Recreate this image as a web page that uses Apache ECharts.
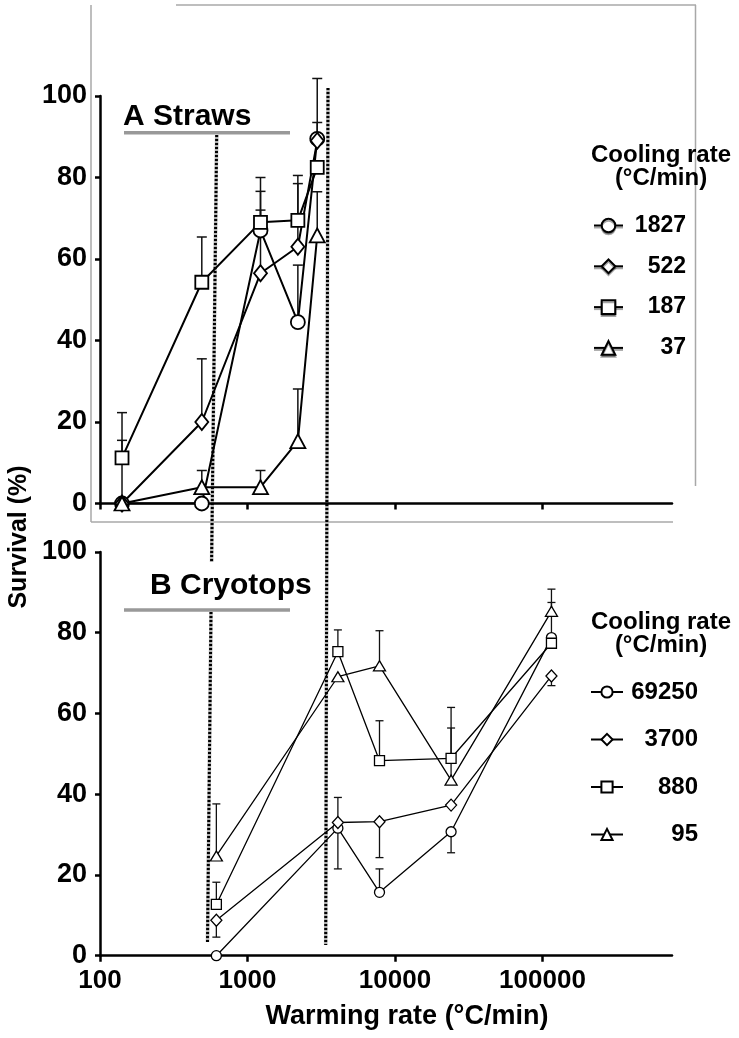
<!DOCTYPE html>
<html>
<head>
<meta charset="utf-8">
<script src="https://cdn.jsdelivr.net/npm/echarts@6/dist/echarts.min.js"></script>
<style>
html,body{margin:0;padding:0;background:#fff;}
#c{width:739px;height:1038px;}
</style>
</head>
<body>
<div id="c"></div>
<script>
// ---------- DATA ----------
// Panel A: Straws
var xA = [141, 490, 1225, 2195, 2970];
var namesA = ['1827', '522', '187', '37'];
var a1827 = [0, 0, 67, 44.5, 89.5];
var a522  = [0, 20, 56.5, 63, 89];
var a187  = [11.2, 54.3, 69, 69.5, 82.5];
var a37   = [0, 4, 4, 15.3, 65.8];
// signed error bar lengths (null = none)
var a1827Err = [15.5, null, 9.6, 14, 14.8];
var a522Err  = [null, 15.5, 15.5, 15.5, 4.5];
var a187Err  = [11.1, 11.1, 11, 11, null];
var a37Err   = [null, 4.1, 4.1, 12.8, 10.7];

// Panel B: Cryotops
var xB = [615, 4100, 7850, 24000, 115000];
var namesB = ['69250', '3700', '880', '95'];
var b69250 = [0, 31.6, 15.7, 30.7, 78.8];
var b3700  = [8.8, 33, 33.2, 37.3, 69.3];
var b880   = [12.7, 75.3, 48.3, 48.9, 77.4];
var b95    = [24.7, 69.1, 71.8, 43.5, 85.3];
var b69250Err = [null, -10.1, 5.8, -5.2, 8.7];
var b3700Err  = [-4.2, 6.2, -8.9, null, -2.4];
var b880Err   = [5.5, 5.4, 9.9, 12.6, null];
var b95Err    = [12.9, null, 8.7, 12.9, 5.5];

var xTicks = [100, 1000, 10000, 100000];
var yTicks = [0, 20, 40, 60, 80, 100];

// ---------- BUILD ----------
var FONT = 'Liberation Sans';
function pairs(xs, ys) { return xs.map(function (x, i) { return [x, ys[i]]; }); }
function errs(xs, ys, es) {
  var out = [];
  xs.forEach(function (x, i) { if (es[i] !== null) out.push([x, ys[i], es[i]]); });
  return out;
}
function errSeries(idx, data, cap, lw) {
  return {
    type: 'custom', xAxisIndex: idx, yAxisIndex: idx, z: 1, silent: true,
    data: data,
    renderItem: function (params, api) {
      var x = api.value(0), y = api.value(1), e = api.value(2);
      var p0 = api.coord([x, y]);
      var p1 = api.coord([x, y + e]);
      return {
        type: 'group', children: [
          { type: 'line', shape: { x1: p0[0], y1: p0[1], x2: p1[0], y2: p1[1] }, style: { stroke: '#111', lineWidth: lw } },
          { type: 'line', shape: { x1: p1[0] - cap, y1: p1[1], x2: p1[0] + cap, y2: p1[1] }, style: { stroke: '#111', lineWidth: lw } }
        ]
      };
    }
  };
}
function lineSeries(idx, name, xs, ys, symbol, size, lw, bw) {
  return {
    type: 'line', name: name, xAxisIndex: idx, yAxisIndex: idx, z: 3,
    data: pairs(xs, ys), symbol: symbol, symbolSize: size, showSymbol: true,
    lineStyle: { color: '#000', width: lw },
    itemStyle: { color: '#fff', borderColor: '#000', borderWidth: bw },
    emphasis: { disabled: true }
  };
}

var topYA = 96, botYA = 503.5, topYB = 552, botYB = 955.7;

function xAxisCfg(idx, showLabels) {
  return {
    type: 'log', logBase: 10, gridIndex: idx, min: 100, max: 755000,
    axisLine: { show: true, onZero: false, lineStyle: { color: '#000', width: 2.5 } },
    axisTick: { show: true, length: 6, customValues: xTicks, lineStyle: { color: '#000', width: 2.5 } },
    axisLabel: {
      show: showLabels, customValues: xTicks, margin: 12,
      color: '#000', fontFamily: FONT, fontWeight: 'bold', fontSize: 26,
      formatter: function (v) { return String(Math.round(v)); }
    },
    splitLine: { show: false }, minorTick: { show: false }
  };
}
function yAxisCfg(idx) {
  return {
    type: 'value', gridIndex: idx, min: 0, max: 100, interval: 20,
    axisLine: { show: true, lineStyle: { color: '#000', width: 2.5 } },
    axisTick: { show: true, length: 5, lineStyle: { color: '#000', width: 2.5 } },
    axisLabel: { margin: 13, color: '#000', fontFamily: FONT, fontWeight: 'bold', fontSize: 27 },
    splitLine: { show: false }
  };
}

var gray = '#a8a8a8';
function dotted(x1, y1, x2, y2) {
  return [
    { type: 'line', shape: { x1: x1, y1: y1, x2: x2, y2: y2 }, style: { stroke: '#b0b0b0', lineWidth: 3.5 }, z: 0 },
    { type: 'line', shape: { x1: x1, y1: y1, x2: x2, y2: y2 }, style: { stroke: '#000', lineWidth: 3, lineDash: [2, 2] }, z: 0 }
  ];
}
function seg(x1, y1, x2, y2, color, w) {
  return { type: 'line', shape: { x1: x1, y1: y1, x2: x2, y2: y2 }, style: { stroke: color, lineWidth: w }, z: 0 };
}
function txt(x, y, t, size, align, extra) {
  var o = { type: 'text', x: x, y: y, z: 5, style: { text: t, fill: '#000', font: 'bold ' + size + 'px "' + FONT + '"', textAlign: align, textVerticalAlign: 'middle' } };
  if (extra) for (var k in extra) o[k] = extra[k];
  return o;
}

var graphics = [];
// gray frame around panel A
graphics.push(seg(91, 5, 91, 522, gray, 1.5));
graphics.push(seg(91, 522, 673, 522, gray, 1.5));
graphics.push(seg(176, 5, 696, 5, gray, 1.5));
graphics.push(seg(695.5, 5, 695.5, 486, gray, 1.5));
// title underlines
graphics.push(seg(124, 132.7, 290, 132.7, '#999', 3.5));
graphics.push(seg(124, 610, 290, 610, '#999', 3.5));
// dotted guide lines
graphics = graphics.concat(dotted(216.7, 135, 211.6, 562));
graphics = graphics.concat(dotted(211.0, 612, 207.5, 942));
graphics = graphics.concat(dotted(328, 88, 325.7, 945));
// texts
graphics.push(txt(123, 117, 'A Straws', 30, 'left'));
graphics.push(txt(150, 586, 'B Cryotops', 30, 'left'));
graphics.push(txt(661, 155, 'Cooling rate', 24, 'center'));
graphics.push(txt(661, 178, '(°C/min)', 24, 'center'));
graphics.push(txt(661, 622, 'Cooling rate', 24, 'center'));
graphics.push(txt(661, 645, '(°C/min)', 24, 'center'));
graphics.push(txt(407, 1017, 'Warming rate (°C/min)', 27, 'center'));
graphics.push(txt(19, 537, 'Survival (%)', 25, 'center', { rotation: Math.PI / 2 }));

var series = [
  errSeries(0, errs(xA, a1827, a1827Err), 5, 1.5),
  errSeries(0, errs(xA, a522, a522Err), 5, 1.5),
  errSeries(0, errs(xA, a187, a187Err), 5, 1.5),
  errSeries(0, errs(xA, a37, a37Err), 5, 1.5),
  lineSeries(0, namesA[0], xA, a1827, 'circle', 14, 2, 1.8),
  lineSeries(0, namesA[1], xA, a522, 'diamond', [13, 16], 2, 1.8),
  lineSeries(0, namesA[2], xA, a187, 'rect', 13, 2, 1.8),
  lineSeries(0, namesA[3], xA, a37, 'triangle', [15, 14], 2, 1.8),
  errSeries(1, errs(xB, b69250, b69250Err), 4, 1.3),
  errSeries(1, errs(xB, b3700, b3700Err), 4, 1.3),
  errSeries(1, errs(xB, b880, b880Err), 4, 1.3),
  errSeries(1, errs(xB, b95, b95Err), 4, 1.3),
  lineSeries(1, namesB[0], xB, b69250, 'circle', 10, 1.3, 1.3),
  lineSeries(1, namesB[1], xB, b3700, 'diamond', [11, 12], 1.3, 1.3),
  lineSeries(1, namesB[2], xB, b880, 'rect', 10, 1.3, 1.3),
  lineSeries(1, namesB[3], xB, b95, 'triangle', [12, 10], 1.3, 1.3)
];

var chart = echarts.init(document.getElementById('c'), null, { renderer: 'canvas' });
chart.setOption({
  animation: false,
  backgroundColor: '#fff',
  grid: [
    { left: 100, top: topYA, width: 572, height: botYA - topYA },
    { left: 100, top: topYB, width: 572, height: botYB - topYB }
  ],
  xAxis: [xAxisCfg(0, false), xAxisCfg(1, true)],
  yAxis: [yAxisCfg(0), yAxisCfg(1)],
  legend: [
    {
      data: namesA, orient: 'vertical', left: 588, top: 209, itemWidth: 29, itemHeight: 17, itemGap: 17.8,
      selectedMode: false,
      itemStyle: { shadowColor: 'rgba(0,0,0,0.35)', shadowOffsetY: 2, shadowBlur: 0 },
      lineStyle: { shadowColor: 'rgba(0,0,0,0.35)', shadowOffsetY: 2, shadowBlur: 0 },
      formatter: function (n) { return '{n|' + n + '}'; },
      textStyle: { rich: { n: { width: 58, height: 23, lineHeight: 23, align: 'right', fontFamily: FONT, fontWeight: 'bold', fontSize: 23, color: '#000' } } }
    },
    {
      data: namesB, orient: 'vertical', left: 585, top: 675, itemWidth: 32, itemHeight: 14, itemGap: 23.5,
      selectedMode: false,
      formatter: function (n) { return '{n|' + n + '}'; },
      textStyle: { rich: { n: { width: 70, height: 24, lineHeight: 24, align: 'right', fontFamily: FONT, fontWeight: 'bold', fontSize: 24, color: '#000' } } }
    }
  ],
  graphic: graphics,
  series: series
});
</script>
</body>
</html>
